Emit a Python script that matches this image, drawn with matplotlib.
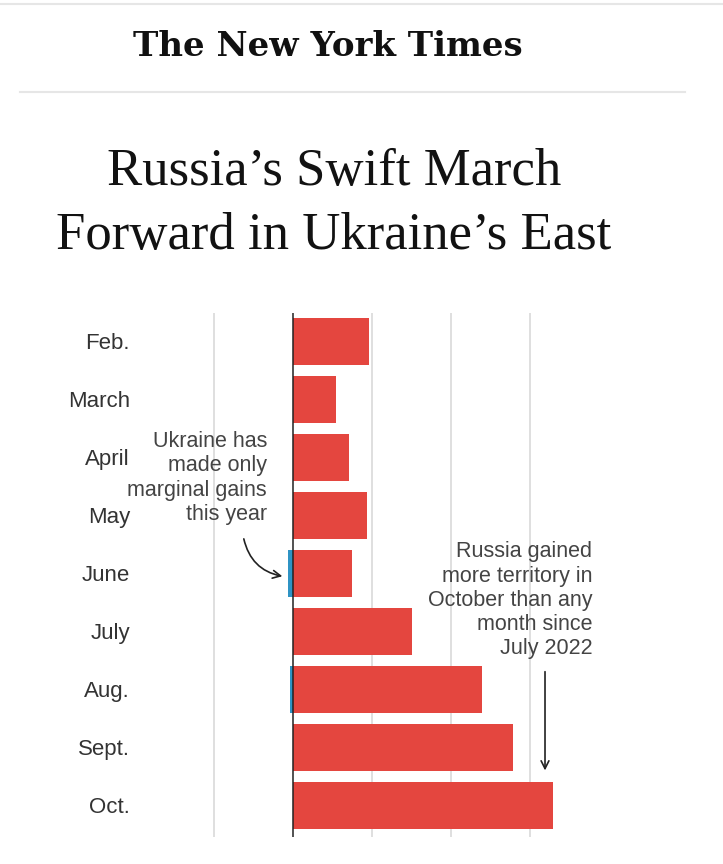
import matplotlib.pyplot as plt
from matplotlib.lines import Line2D

months = ['Feb.', 'March', 'April', 'May', 'June', 'July', 'Aug.', 'Sept.', 'Oct.']
russia_gains = [0.96, 0.54, 0.71, 0.94, 0.75, 1.51, 2.39, 2.78, 3.29]
ukraine_gains = [0, 0, 0, 0, 0.06, 0, 0.04, 0, 0]
grid_values = [-1, 0, 1, 2, 3]

red = '#e4463f'
blue = '#2f93c4'
text_gray = '#333333'

W, H = 723, 864
fig = plt.figure(figsize=(W / 100, H / 100), dpi=100)

# masthead and rules
fig.text(328 / W, 1 - 47 / H, 'The New York Times', ha='center', va='center',
         fontsize=24.5, family='DejaVu Serif', weight='bold', color='#111111')
fig.add_artist(Line2D([0, 1], [1 - 4 / H, 1 - 4 / H], color='#e6e6e6', lw=1.5))
fig.add_artist(Line2D([20 / W, 685 / W], [1 - 92 / H, 1 - 92 / H], color='#e6e6e6', lw=1.5))

# headline
fig.text(334 / W, 1 - 172 / H, 'Russia\u2019s Swift March', ha='center', va='center',
         fontsize=38, family='Liberation Serif', color='#121212')
fig.text(334 / W, 1 - 236 / H, 'Forward in Ukraine\u2019s East', ha='center', va='center',
         fontsize=38, family='Liberation Serif', color='#121212')

# chart axes: zero line at x=293px, 79px per unit
left_px, right_px = 150, 690
top_px, bot_px = 313, 837
ax = fig.add_axes([left_px / W, 1 - bot_px / H, (right_px - left_px) / W, (bot_px - top_px) / H])
ax.set_xlim((left_px - 293) / 79, (right_px - 293) / 79)
ax.set_ylim(8.55, -0.49)

for g in grid_values:
    if g == 0:
        continue
    ax.axvline(g, color='#d9d9d9', lw=1.2, zorder=0)

y = list(range(len(months)))
ax.barh(y, russia_gains, height=0.81, color=red, zorder=2)
ax.barh(y, [-u for u in ukraine_gains], height=0.81, color=blue, zorder=2)
ax.axvline(0, color='#222222', lw=1.1, zorder=3)

for s in ax.spines.values():
    s.set_visible(False)
ax.set_xticks([])
ax.set_yticks(y)
ax.set_yticklabels(months, fontsize=16, family='Liberation Sans', color=text_gray)
ax.tick_params(axis='y', length=0, pad=14.4)
for lbl in ax.get_yticklabels():
    lbl.set_va('center_baseline')

# annotations
ax.text(-0.33, 1.55, 'Ukraine has\nmade only\nmarginal gains\nthis year', ha='right', va='top',
        fontsize=15.5, family='Liberation Sans', color='#444444', linespacing=1.2)
ax.annotate('', xy=(-0.1, 4.06), xytext=(-0.63, 3.36),
            arrowprops=dict(arrowstyle='->', color='#222222', lw=1.2,
                            connectionstyle='arc3,rad=0.35', mutation_scale=14))
ax.text(3.79, 3.45, 'Russia gained\nmore territory in\nOctober than any\nmonth since\nJuly 2022',
        ha='right', va='top', fontsize=15.5, family='Liberation Sans', color='#444444',
        linespacing=1.2)
ax.annotate('', xy=(3.19, 7.45), xytext=(3.19, 5.65),
            arrowprops=dict(arrowstyle='->', color='#222222', lw=1.2, mutation_scale=14))

fig.savefig('out.png', dpi=100, facecolor='white')
